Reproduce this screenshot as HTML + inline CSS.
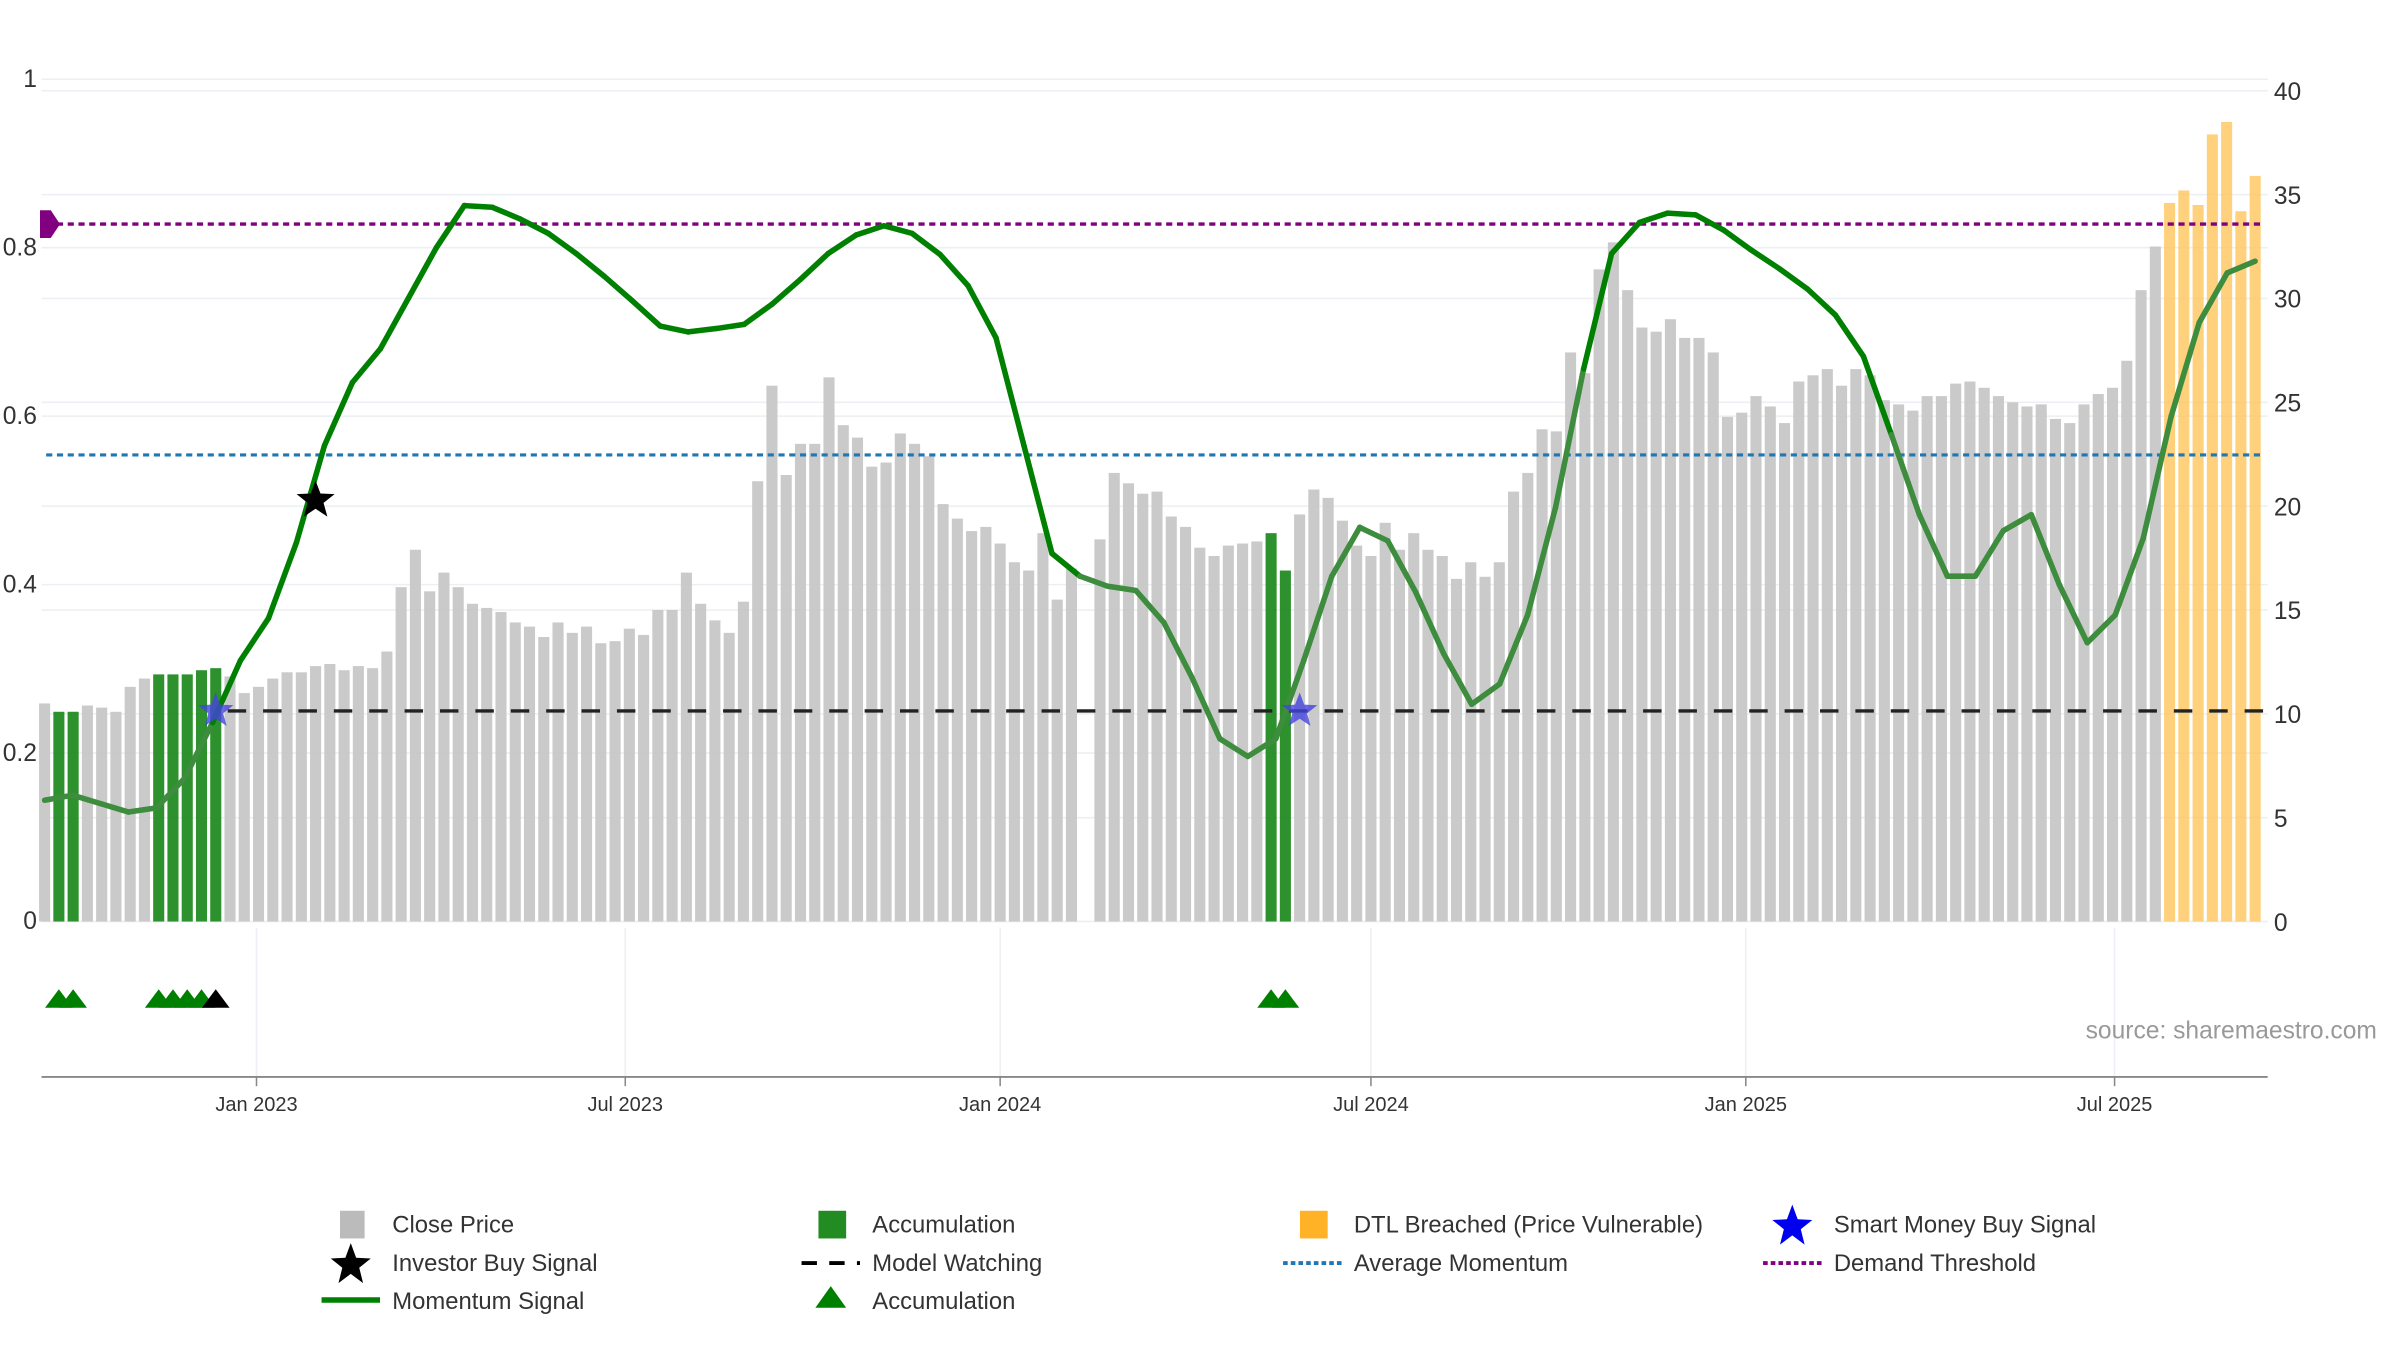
<!DOCTYPE html>
<html><head><meta charset="utf-8"><title>Chart</title>
<style>
html,body{margin:0;padding:0;background:#fff;}
svg{display:block;font-family:"Liberation Sans","DejaVu Sans",sans-serif;}
</style></head>
<body>
<svg id="chart" width="2400" height="1350" viewBox="0 0 1560 877.5" xmlns="http://www.w3.org/2000/svg">
<g id="grid"></g>
<g id="bars"></g>
<g id="lines"></g>
<g id="momentum"></g>
<g id="markers"></g>
<g id="axes"></g>
<text x="1545" y="675" text-anchor="end" font-size="16" fill="#999">source: sharemaestro.com</text>
<g id="legend" font-size="15.5" fill="#333">
  <g><rect x="221" y="787" width="16" height="18" fill="#bbb"/><text x="255" y="801">Close Price</text></g>
  <g><rect x="532" y="787" width="18" height="18" fill="#228b22"/><text x="567" y="801">Accumulation</text></g>
  <g><rect x="845" y="787" width="18" height="18" fill="#ffa500" opacity="0.85"/><text x="880" y="801">DTL Breached (Price Vulnerable)</text></g>
  <g><polygon points="1165,783 1168.5,792.5 1178,793 1170.5,799 1173,809 1165,803 1157,809 1159.5,799 1152,793 1161.5,792.5" fill="#0000ee"/><text x="1192" y="801">Smart Money Buy Signal</text></g>
  <g><polygon points="228,808 231.5,817.5 241,818 233.5,824 236,834 228,828 220,834 222.5,824 215,818 224.5,817.5" fill="#000"/><text x="255" y="826">Investor Buy Signal</text></g>
  <g><line x1="521" y1="821" x2="559" y2="821" stroke="#000" stroke-width="2.5" stroke-dasharray="10,8"/><text x="567" y="826">Model Watching</text></g>
  <g><line x1="834" y1="821" x2="872" y2="821" stroke="#1f77b4" stroke-width="2.5" stroke-dasharray="3,2"/><text x="880" y="826">Average Momentum</text></g>
  <g><line x1="1146" y1="821" x2="1184" y2="821" stroke="#800080" stroke-width="2.5" stroke-dasharray="3,2"/><text x="1192" y="826">Demand Threshold</text></g>
  <g><line x1="209" y1="845" x2="247" y2="845" stroke="#008000" stroke-width="3.5"/><text x="255" y="851">Momentum Signal</text></g>
  <g><polygon points="540,836 550,850 530,850" fill="#008000"/><text x="567" y="851">Accumulation</text></g>
</g>
</svg>
<script>
// ---------- data ----------
const prices = [10.5,10.1,10.1,10.4,10.3,10.1,11.3,11.7,11.9,11.9,11.9,12.1,12.2,11.8,11.0,11.3,11.7,12.0,12.0,12.3,
12.4,12.1,12.3,12.2,13.0,16.1,17.9,15.9,16.8,16.1,15.3,15.1,14.9,14.4,14.2,13.7,14.4,13.9,14.2,13.4,
13.5,14.1,13.8,15.0,15.0,16.8,15.3,14.5,13.9,15.4,21.2,25.8,21.5,23.0,23.0,26.2,23.9,23.3,21.9,22.1,
23.5,23.0,22.4,20.1,19.4,18.8,19.0,18.2,17.3,16.9,18.7,15.5,17.0,null,18.4,21.6,21.1,20.6,20.7,19.5,
19.0,18.0,17.6,18.1,18.2,18.3,18.7,16.9,19.6,20.8,20.4,19.3,18.1,17.6,19.2,17.9,18.7,17.9,17.6,16.5,
17.3,16.6,17.3,20.7,21.6,23.7,23.6,27.4,26.4,31.4,32.7,30.4,28.6,28.4,29.0,28.1,28.1,27.4,24.3,24.5,
25.3,24.8,24.0,26.0,26.3,26.6,25.8,26.6,26.3,25.1,24.9,24.6,25.3,25.3,25.9,26.0,25.7,25.3,25.0,24.8,
24.9,24.2,24.0,24.9,25.4,25.7,27.0,30.4,32.5,34.6,35.2,34.5,37.9,38.5,34.2,35.9];
const accumulationWeeks = [1,2,8,9,10,11,12,86,87];
const dtlStartWeek = 149;
// momentum sampled evenly across the full week range
const momentum = [0.144,0.15,0.14,0.13,0.135,0.17,0.236,0.31,0.36,0.45,0.565,0.64,0.68,0.74,0.80,0.85,0.848,0.834,0.817,0.793,
0.766,0.737,0.707,0.70,0.704,0.709,0.733,0.762,0.793,0.815,0.826,0.817,0.792,0.755,0.693,0.565,0.437,0.41,0.398,0.393,
0.355,0.29,0.217,0.196,0.217,0.31,0.41,0.468,0.452,0.391,0.318,0.258,0.282,0.364,0.492,0.656,0.793,0.83,0.841,0.839,
0.821,0.797,0.775,0.751,0.72,0.671,0.578,0.483,0.41,0.41,0.464,0.483,0.40,0.331,0.364,0.455,0.60,0.711,0.77,0.784];
const demandThreshold = 0.828;
const averageMomentum = 0.554;
const modelWatching = 0.25;
const smartMoneyWeeks = [12,88];
const investorBuyWeek = 19;
const investorBuyValue = 0.5;
const triangleWeeks = [1,2,8,9,10,11,86,87];
const blackTriangleWeeks = [12];
const leftTicks = [0,0.2,0.4,0.6,0.8,1];
const leftTickLabels = ["0","0.2","0.4","0.6","0.8","1"];
const rightTicks = [0,5,10,15,20,25,30,35,40];
const dateTickLabels = ["Jan 2023","Jul 2023","Jan 2024","Jul 2024","Jan 2025","Jul 2025"];
const dateTickDates = ["2023-01-01","2023-07-01","2024-01-01","2024-07-01","2025-01-01","2025-07-01"];
const startDate = "2022-09-19";

// ---------- scales ----------
const NS="http://www.w3.org/2000/svg";
const X0=29, STEP=9.27, PL=27, PR=1474, Y0=599;
function xw(w){return X0+w*STEP;}
function xd(d){return xw((new Date(d)-new Date(startDate))/86400000/7);}
function yl(v){return Y0-v*547.5;}
function yr(v){return Y0-v*13.5;}
function xm(j){return xw(j*(prices.length-1)/(momentum.length-1));}
function mk(tag,attrs,parent){const e=document.createElementNS(NS,tag);for(const k in attrs)e.setAttribute(k,attrs[k]);parent.appendChild(e);return e;}
function star(cx,cy,r){let p=[];for(let i=0;i<10;i++){const a=-Math.PI/2+i*Math.PI/5;const rr=i%2?r*0.42:r;p.push((cx+rr*Math.cos(a)).toFixed(1)+","+(cy+rr*Math.sin(a)).toFixed(1));}return p.join(" ");}

const grid=document.getElementById('grid'), bars=document.getElementById('bars'), lines=document.getElementById('lines'),
 mom=document.getElementById('momentum'), markers=document.getElementById('markers'), axes=document.getElementById('axes');

leftTicks.forEach((t,i)=>{
  const g=mk('line',{x1:PL,x2:PR,y1:yl(t),y2:yl(t),stroke:'#eceff3','stroke-width':1},grid);
  
  
  const tx=mk('text',{x:24,y:yl(t)+5,'text-anchor':'end','font-size':16,fill:'#333'},axes);
  tx.textContent=leftTickLabels[i];
  
  
});
rightTicks.forEach(t=>{
  const g=mk('line',{x1:PL,x2:PR,y1:yr(t),y2:yr(t),stroke:'#eceff3','stroke-width':1},grid);
  
  
  const tx=mk('text',{x:1478,y:yr(t)+6,'font-size':16,fill:'#333'},axes);
  tx.textContent=String(t);
  
  
});
const ax=mk('line',{x1:PL,x2:PR,y1:700,y2:700,stroke:'#888','stroke-width':1.2},axes);


dateTickDates.forEach((d,i)=>{
  const x=xd(d);
  const v=mk('line',{x1:x,x2:x,y1:603,y2:700,stroke:'#eceff3','stroke-width':1},grid);
  
  
  const tk=mk('line',{x1:x,x2:x,y1:700,y2:706,stroke:'#888','stroke-width':1},axes);
  
  
  const tx=mk('text',{x:x,y:722,'text-anchor':'middle','font-size':13,fill:'#333'},axes);
  tx.textContent=dateTickLabels[i];
  
  
});

prices.forEach((p,i)=>{
  if(p===null) return;
  let fill='#c4c4c4', name='close-price-bar', op=0.9;
  if(accumulationWeeks.includes(i)){fill='#228b22';name='accumulation-bar';op=0.95;}
  else if(i>=dtlStartWeek){fill='#ffc55c';name='dtl-breached-bar';op=0.8;}
  const r=mk('rect',{x:xw(i)-3.6,y:yr(p),width:7.2,height:Y0-yr(p),fill:fill,opacity:op},bars);
  
  
});

const dl=mk('line',{x1:30,x2:1472,y1:yl(demandThreshold),y2:yl(demandThreshold),stroke:'#800080','stroke-width':2.2,'stroke-dasharray':'4,3'},lines);


const dd=mk('polygon',{points:`26,${yl(demandThreshold)-9} 33,${yl(demandThreshold)-9} 39,${yl(demandThreshold)} 33,${yl(demandThreshold)+9} 26,${yl(demandThreshold)+9}`,fill:'#800080'},lines);


const al=mk('line',{x1:30,x2:1472,y1:yl(averageMomentum),y2:yl(averageMomentum),stroke:'#1f77b4','stroke-width':2,'stroke-dasharray':'4,3'},lines);


const wl=mk('line',{x1:148,x2:1472,y1:yl(modelWatching),y2:yl(modelWatching),stroke:'#222','stroke-width':2.2,'stroke-dasharray':'12,11'},lines);



function light(x){return x<145 || (x>700 && x<1035) || x>1235;}
for(let j=0;j<momentum.length-1;j++){
  const x1=xm(j), x2=xm(j+1);
  const s=mk('line',{x1:x1,y1:yl(momentum[j]),x2:x2,y2:yl(momentum[j+1]),stroke:light((x1+x2)/2)?'#3e8c3e':'#008000','stroke-width':3.6,'stroke-linecap':'round'},mom);
  
  
}

smartMoneyWeeks.forEach(w=>{
  const s=mk('polygon',{points:star(xw(w),yl(modelWatching),12),fill:'#4444dd',opacity:0.8},markers);
  
  
});
const ib=mk('polygon',{points:star(xw(investorBuyWeek),yl(investorBuyValue),13),fill:'#000'},markers);


triangleWeeks.forEach(w=>{
  const x=xw(w);
  const t=mk('polygon',{points:`${x-9},655 ${x},643 ${x+9},655`,fill:'#008000'},markers);
  
  
});
blackTriangleWeeks.forEach(w=>{
  const x=xw(w);
  const t=mk('polygon',{points:`${x-9},655 ${x},643 ${x+9},655`,fill:'#000'},markers);
  
  
});
</script>
</body></html>
